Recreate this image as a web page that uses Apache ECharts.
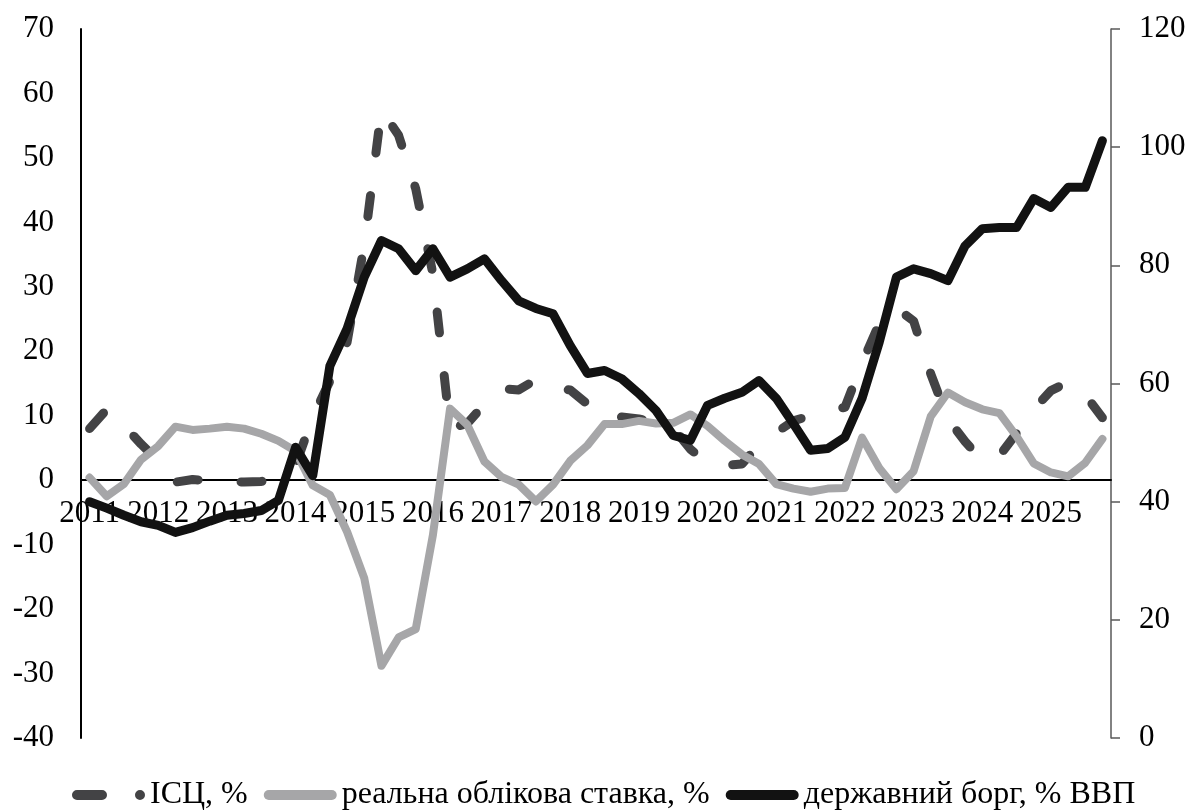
<!DOCTYPE html>
<html>
<head>
<meta charset="utf-8">
<script src="https://cdn.jsdelivr.net/npm/echarts@6/dist/echarts.min.js"></script>
<style>
  html, body { margin: 0; padding: 0; background: #fff; }
  #chart { width: 1189px; height: 812px; }
</style>
</head>
<body>
<div id="chart"></div>
<script>
// quarterly data, 2011 Q1 .. 2025 Q4
const years = ['2011','2012','2013','2014','2015','2016','2017','2018','2019','2020','2021','2022','2023','2024','2025'];
const quarterNames = ['Q1','Q2','Q3','Q4'];

// ІСЦ, % (left axis)
const cpi = [
	8.0, 11.0, 8.5, 5.6,
	3.0, -0.3, 0.1, -0.1,
	-0.2, -0.3, -0.2, 0.4,
	2.3, 9.8, 15.4, 21.4,
	36.5, 57.5, 53.5, 45.2,
	32.0, 8.0, 8.8, 11.8,
	14.2, 14.0, 15.6, 14.2,
	14.0, 11.8, 9.5, 9.8,
	9.5, 9.0, 8.1, 4.8,
	2.6, 2.3, 2.5, 5.5,
	7.4, 9.2, 10.0, 10.8,
	11.3, 18.2, 24.3, 26.7,
	24.7, 16.5, 9.5, 6.0,
	3.0, 3.8, 7.3, 11.0,
	13.9, 15.2, 13.2, 9.7
];

// реальна облікова ставка, % (left axis)
const realRate = [
	0.4, -2.5, -0.6, 3.2,
	5.3, 8.3, 7.8, 8.0,
	8.3, 8.0, 7.2, 6.1,
	4.5, -0.8, -2.3, -8.0,
	-15.2, -28.8, -24.4, -23.1,
	-8.5, 11.1, 8.6, 2.9,
	0.5, -0.7, -3.3, -0.7,
	3.0, 5.4, 8.7, 8.7,
	9.2, 8.8, 8.9, 10.2,
	8.4, 6.1, 4.0, 2.5,
	-0.6, -1.3, -1.8, -1.3,
	-1.2, 6.6, 1.9, -1.4,
	1.4, 9.9, 13.6, 12.1,
	11.0, 10.4, 6.8, 2.6,
	1.2, 0.6, 2.7, 6.4
];

// державний борг, % ВВП (right axis)
const publicDebt = [
	40.0, 38.9, 37.7, 36.6,
	36.0, 34.8, 35.6, 36.7,
	37.7, 38.0, 38.5, 40.2,
	49.2, 44.4, 63.0, 69.3,
	78.0, 84.2, 82.8, 79.1,
	82.8, 78.0, 79.4, 81.1,
	77.4, 74.0, 72.7, 71.8,
	66.4, 61.7, 62.2, 60.8,
	58.3, 55.4, 51.2, 50.4,
	56.3, 57.5, 58.5, 60.5,
	57.5, 53.2, 48.7, 49.0,
	50.9, 57.5, 67.0, 78.0,
	79.4, 78.6, 77.4, 83.3,
	86.2, 86.4, 86.4, 91.3,
	89.8, 93.2, 93.2, 101.1
];

const categories = [];
years.forEach(function (y) {
	quarterNames.forEach(function (q) { categories.push(y + ' ' + q); });
});

const fontFamily = "'Liberation Serif', 'Times New Roman', serif";
const dashIcon = 'path://M5,0 L30,0 A5,5 0 0 1 30,10 L5,10 A5,5 0 0 1 5,0 Z M68,0 A5,5 0 0 1 68,10 A5,5 0 0 1 68,0 Z';
const lineIcon = 'path://M5,0 L68,0 A5,5 0 0 1 68,10 L5,10 A5,5 0 0 1 5,0 Z';

// grid geometry; the category axis is lifted to the zero of the left axis
const gridTop = 29, gridBottom = 74, chartHeight = 812;
const plotHeight = chartHeight - gridTop - gridBottom;
const zeroShift = -plotHeight * 40 / 110;

const chart = echarts.init(document.getElementById('chart'));
const option = {
	animation: false,
	backgroundColor: '#ffffff',
	textStyle: { fontFamily: fontFamily },
	grid: { left: 81, right: 78, top: gridTop, bottom: gridBottom },
	legend: {
		left: 72,
		top: 779,
		padding: 0,
		itemWidth: 73,
		itemHeight: 10,
		itemGap: 16,
		itemStyle: { borderWidth: 0 },
		textStyle: { fontFamily: fontFamily, fontSize: 32, color: '#000' },
		data: [
			{ name: 'ІСЦ, %', icon: dashIcon },
			{ name: 'реальна облікова ставка, %', icon: lineIcon },
			{ name: 'державний борг, % ВВП', icon: lineIcon }
		]
	},
	xAxis: {
		type: 'category',
		data: categories,
		boundaryGap: true,
		position: 'bottom',
		offset: zeroShift,
		axisLine: { onZero: false, lineStyle: { color: '#000', width: 2 } },
		axisTick: { show: false },
		axisLabel: {
			interval: 3,
			margin: 18,
			fontSize: 31,
			color: '#000',
			fontFamily: fontFamily,
			formatter: function (v) { return v.slice(0, 4); }
		},
		splitLine: { show: false }
	},
	yAxis: [
		{
			type: 'value',
			min: -40,
			max: 70,
			interval: 10,
			axisLine: { show: true, onZero: false, lineStyle: { color: '#000', width: 2 } },
			axisTick: { show: false },
			axisLabel: { fontSize: 31, color: '#000', margin: 27, fontFamily: fontFamily },
			splitLine: { show: false }
		},
		{
			type: 'value',
			position: 'right',
			min: 0,
			max: 120,
			interval: 20,
			axisLine: { show: true, onZero: false, lineStyle: { color: '#595959', width: 1.5 } },
			axisTick: { show: true, length: 9, lineStyle: { color: '#595959', width: 1.5 } },
			axisLabel: { fontSize: 31, color: '#000', margin: 28, fontFamily: fontFamily },
			splitLine: { show: false }
		}
	],
	series: [
		{
			name: 'ІСЦ, %',
			type: 'line',
			yAxisIndex: 0,
			data: cpi,
			symbol: 'none',
			itemStyle: { color: '#434345' },
			lineStyle: { color: '#434345', width: 9, type: [21, 43], cap: 'round', join: 'round' }
		},
		{
			name: 'реальна облікова ставка, %',
			type: 'line',
			yAxisIndex: 0,
			data: realRate,
			symbol: 'none',
			itemStyle: { color: '#a6a6a8' },
			lineStyle: { color: '#a6a6a8', width: 8, cap: 'round', join: 'round' }
		},
		{
			name: 'державний борг, % ВВП',
			type: 'line',
			yAxisIndex: 1,
			data: publicDebt,
			symbol: 'none',
			itemStyle: { color: '#121212' },
			lineStyle: { color: '#121212', width: 9, cap: 'round', join: 'round' }
		}
	]
};
chart.setOption(option);
</script>
</body>
</html>
